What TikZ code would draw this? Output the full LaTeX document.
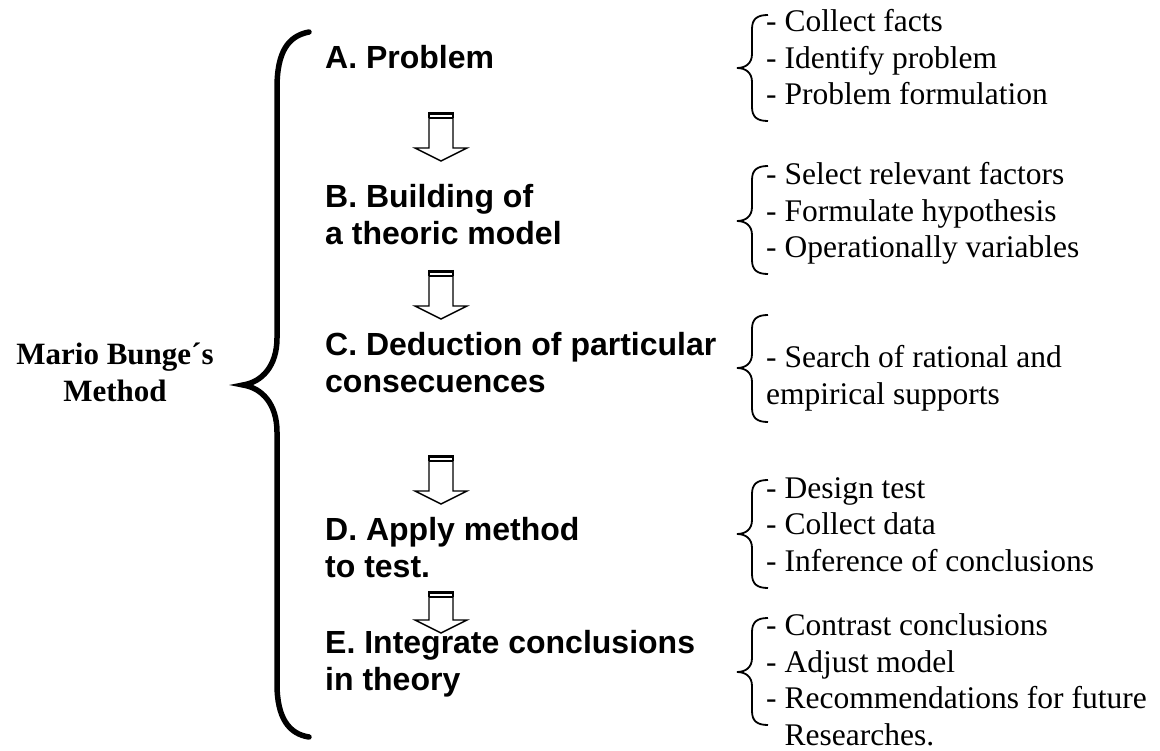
\documentclass[tikz,border=0pt]{standalone}
\usepackage{fontspec}
\setmainfont{Liberation Serif}
\newfontfamily\arialfont{Liberation Sans}
\begin{document}
\begin{tikzpicture}[x=1pt,y=-1pt,
  lbl/.style={font=\arialfont\bfseries\fontsize{32}{37}\selectfont, anchor=base west, align=left, inner sep=0pt},
  item/.style={font=\fontsize{31.5}{36.5}\selectfont, anchor=base west, align=left, inner sep=0pt},
  title/.style={font=\bfseries\fontsize{31}{37}\selectfont, anchor=base, align=center, inner sep=0pt},
  bigbrace/.style={line width=5.5pt, line cap=round},
  smallbrace/.style={line width=1.8pt},
  stemlen/.store in=\stemlen, stemlen=36,
  blockarrow/.pic={
    \draw[line width=1.4pt, line join=miter, fill=white] (-12,6) -- (-12,\stemlen) -- (-26,\stemlen) -- (0,\stemlen+13) -- (26,\stemlen) -- (12,\stemlen) -- (12,6);
    \draw[line width=3pt] (-12.7,1.5) -- (12.7,1.5);
    \draw[line width=1.4pt] (-12,6) -- (12,6);
    \draw[line width=1.4pt] (-12,0) -- (-12,6) (12,0) -- (12,6);
  }
]
\useasboundingbox (0,0) rectangle (1160,751);
\newcommand{\itembrace}[3]{%
  \draw[smallbrace] (768,#1) .. controls (757,#1) and (752,#1+4) .. (752,#1+14)
    -- (752,#2-14) .. controls (752,#2-5) and (746,#2) .. (737,#2)
    .. controls (746,#2) and (752,#2+5) .. (752,#2+14)
    -- (752,#3-14) .. controls (752,#3-4) and (757,#3) .. (768,#3);}

% big brace
\draw[bigbrace] (309,32) .. controls (288,36) and (277,52) .. (277,88)
  -- (277,338) .. controls (277,366) and (262,382) .. (243,385)
  .. controls (262,388) and (277,404) .. (277,432)
  -- (277,684) .. controls (277,718) and (289,734) .. (309,737);

% node anchors are at the baseline of the last line
\node[title] (mb) at (115,402) {Mario Bunge´s\\Method};

% left labels
\node[lbl] (A) at (325,69) {A. Problem};
\node[lbl] (B) at (325,245) {B. Building of\\a theoric model};
\node[lbl] (C) at (325,392) {C. Deduction of particular\\consecuences};
\node[lbl] (D) at (325,577) {D. Apply method\\to test.};
\node[lbl] (E) at (325,690) {E. Integrate conclusions\\in theory};

% arrows
\pic (a1) at (441,112) {blockarrow};
\pic (a2) at (441,270) {blockarrow};
\pic (a3) at (441,455) {blockarrow};
\pic[stemlen=29] (a4) at (441,591) {blockarrow};

% right braces and items
\itembrace{15}{68}{121}
\node[item] (ra) at (766,105) {- Collect facts\\- Identify problem\\- Problem formulation};
\itembrace{166}{221}{274}
\node[item] (rb) at (766,258) {- Select relevant factors\\- Formulate hypothesis\\- Operationally variables};
\itembrace{315}{368}{422}
\node[item] (rc) at (766,404) {- Search of rational and\\empirical supports};
\itembrace{480}{534}{588}
\node[item] (rd) at (766,571) {- Design test\\- Collect data\\- Inference of conclusions};
\itembrace{618}{672}{725}
\node[item] (re) at (766,745) {- Contrast conclusions\\- Adjust model\\- Recommendations for future\\\hspace*{0.583em}Researches.};
\end{tikzpicture}
\end{document}
